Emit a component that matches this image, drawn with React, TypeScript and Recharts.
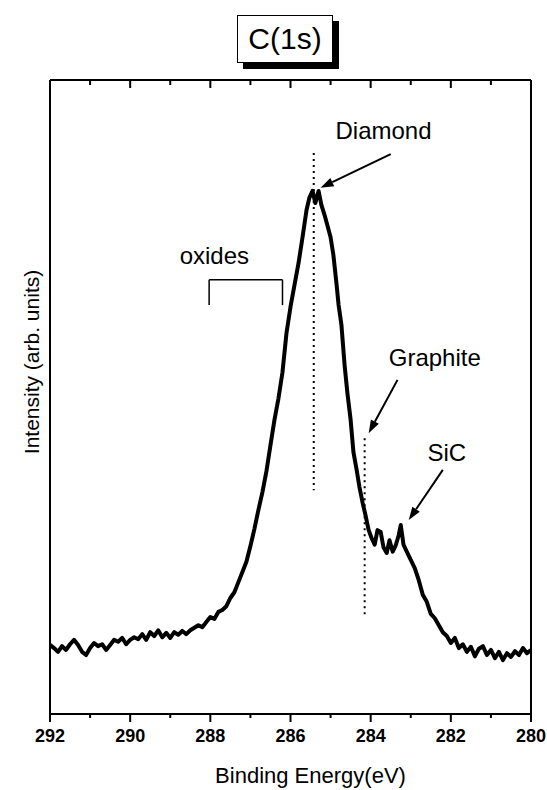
import React from 'react';
import {
  LineChart,
  Line,
  XAxis,
  YAxis,
  ReferenceLine,
  ReferenceDot,
} from 'recharts';

// C(1s) XPS spectrum
const bindingEnergy = [
  292.0, 291.9, 291.8, 291.7, 291.6, 291.5, 291.4, 291.3, 291.2, 291.1,
  291.0, 290.9, 290.8, 290.7, 290.6, 290.5, 290.4, 290.3, 290.2, 290.1,
  290.0, 289.9, 289.8, 289.7, 289.6, 289.5, 289.4, 289.3, 289.2, 289.1,
  289.0, 288.9, 288.8, 288.7, 288.6, 288.5, 288.4, 288.3, 288.2, 288.1,
  288.0, 287.9, 287.8, 287.7, 287.6, 287.5, 287.4, 287.3, 287.2, 287.1,
  287.0, 286.9, 286.8, 286.7, 286.6, 286.5, 286.4, 286.3, 286.2, 286.1,
  286.0, 285.9, 285.8, 285.7, 285.6, 285.53, 285.45, 285.38, 285.3, 285.23,
  285.15, 285.08, 285.0, 284.93, 284.85, 284.8, 284.73, 284.65, 284.58, 284.5,
  284.43, 284.35, 284.28, 284.2, 284.13, 284.05, 283.98, 283.9, 283.83, 283.75,
  283.68, 283.6, 283.53, 283.45, 283.38, 283.3, 283.25, 283.18, 283.1, 283.0,
  282.9, 282.8, 282.7, 282.6, 282.5, 282.4, 282.3, 282.2, 282.1, 282.0,
  281.9, 281.8, 281.7, 281.6, 281.5, 281.4, 281.3, 281.2, 281.1, 281.0,
  280.9, 280.8, 280.7, 280.6, 280.5, 280.4, 280.3, 280.2, 280.1, 280.0,
];

const intensity = [
  10.9, 10.4, 9.8, 10.7, 10.1, 11.0, 11.7, 10.9, 9.8, 9.3,
  10.4, 11.2, 10.7, 11.0, 10.1, 10.9, 11.7, 11.4, 12.0, 11.0,
  11.7, 12.1, 11.8, 12.6, 11.7, 12.9, 12.3, 13.2, 12.1, 12.8,
  12.0, 12.9, 12.5, 13.1, 12.6, 13.2, 13.6, 14.0, 13.7, 14.5,
  15.3, 15.0, 16.1, 16.4, 17.0, 18.3, 19.2, 20.8, 22.4, 24.0,
  26.5, 29.2, 32.2, 35.0, 38.3, 42.4, 46.4, 49.8, 53.9, 60.1,
  64.2, 67.7, 71.1, 75.2, 79.5, 81.4, 82.5, 80.6, 82.5, 80.3,
  78.7, 77.1, 75.2, 72.4, 67.7, 64.5, 61.4, 55.0, 50.6, 46.4,
  41.3, 38.5, 35.8, 33.3, 31.4, 29.0, 27.8, 26.7, 29.0, 28.7,
  26.3, 25.4, 27.4, 25.6, 26.5, 28.2, 29.8, 26.7, 25.6, 24.3,
  23.0, 21.1, 18.8, 17.7, 15.8, 15.1, 14.0, 12.9, 12.3, 11.2,
  12.0, 10.4, 11.0, 9.8, 10.6, 9.1, 10.3, 10.7, 9.3, 10.1,
  8.8, 9.8, 8.5, 9.6, 9.0, 9.9, 9.3, 10.4, 9.6, 10.1,
];

const energyTicks = [292, 291, 290, 289, 288, 287, 286, 285, 284, 283, 282, 281, 280];

// peak markers (dotted lines): [energy, from, to]
const peakMarkers: [number, number, number][] = [
  [285.42, 88.5, 35.3],
  [284.15, 43.5, 15.3],
];

// labels: [text, energy, intensity]
const peakLabels: [string, number, number][] = [
  ['Diamond', 283.68, 92.0],
  ['oxides', 287.9, 72.4],
  ['Graphite', 282.4, 56.2],
  ['SiC', 282.1, 41.3],
];

// arrows: [fromE, fromI, toE, toI]
const arrows: [number, number, number, number][] = [
  [283.5, 88.3, 285.25, 83.0],
  [283.33, 52.7, 284.05, 44.3],
  [282.2, 38.5, 283.05, 30.6],
];

// oxides bracket: [left E, right E, top, bottom]
const oxidesBracket = [288.03, 286.2, 68.5, 64.5];

const data = bindingEnergy.map((e, i) => ({ e, v: intensity[i] }));

const FONT = "'Liberation Sans', Arial, sans-serif";

function BottomTick(props: any) {
  const { x, y, payload } = props;
  const major = payload.value % 2 === 0;
  return (
    <g>
      <line x1={x} x2={x} y1={y} y2={y + (major ? 8 : 4)} stroke="#000" strokeWidth={2} />
      {major && (
        <text x={x} y={y + 28} textAnchor="middle" fontFamily={FONT} fontSize={18} fontWeight={700} fill="#000">
          {payload.value}
        </text>
      )}
    </g>
  );
}

function TopTick(props: any) {
  const { x, y, payload } = props;
  const major = payload.value % 2 === 0;
  return <line x1={x} x2={x} y1={y} y2={y + (major ? 8 : 5)} stroke="#000" strokeWidth={2} />;
}

function Arrow(props: any) {
  const { x1, y1, x2, y2 } = props;
  const a = Math.atan2(y2 - y1, x2 - x1);
  const len = 13;
  const w = 4.5;
  const bx = x2 - len * Math.cos(a);
  const by = y2 - len * Math.sin(a);
  const px = -Math.sin(a) * w;
  const py = Math.cos(a) * w;
  return (
    <g>
      <line x1={x1} y1={y1} x2={bx} y2={by} stroke="#000" strokeWidth={2} />
      <polygon points={`${x2},${y2} ${bx + px},${by + py} ${bx - px},${by - py}`} fill="#000" />
    </g>
  );
}

function YLabel(props: any) {
  const { viewBox } = props;
  const x = viewBox.x - 18;
  const y = 362;
  return (
    <text x={x} y={y} transform={`rotate(-90 ${x} ${y})`} textAnchor="middle" dominantBaseline="central"
      fontFamily="'Liberation Sans Narrow', 'Liberation Sans', Arial, sans-serif" fontSize={21} fill="#000">
      Intensity (arb. units)
    </text>
  );
}

function XLabel(props: any) {
  const { viewBox } = props;
  return (
    <text x={viewBox.x + viewBox.width / 2 + 20} y={783} textAnchor="middle" fontFamily={FONT} fontSize={22} fill="#000">
      Binding Energy(eV)
    </text>
  );
}

export default function App() {
  const [bl, br, bt, bb] = oxidesBracket;
  return (
    <div style={{ position: 'absolute', left: 0, top: 0, width: 547, height: 790, background: '#fff' }}>
      <div
        style={{
          position: 'absolute',
          left: 237,
          top: 15,
          width: 96,
          height: 48,
          boxSizing: 'border-box',
          border: '1.5px solid #000',
          boxShadow: '6px 6px 0 #000',
          background: '#fff',
          fontFamily: FONT,
          fontSize: 30,
          lineHeight: '45px',
          textAlign: 'center',
          zIndex: 2,
        }}
      >
        C(1s)
      </div>
      <LineChart width={547} height={790} data={data} margin={{ top: 79, right: 15, bottom: 0, left: 49 }}>
        <XAxis
          dataKey="e"
          type="number"
          domain={[280, 292]}
          reversed
          ticks={energyTicks}
          interval={0}
          height={76}
          tickSize={0}
          tickMargin={0}
          tick={<BottomTick />}
          axisLine={{ stroke: '#000', strokeWidth: 2 }}
          tickLine={false}
          label={<XLabel />}
        />
        <XAxis
          xAxisId="top"
          orientation="top"
          dataKey="e"
          type="number"
          domain={[280, 292]}
          reversed
          ticks={energyTicks}
          interval={0}
          height={1}
          tickSize={0}
          tickMargin={0}
          tick={<TopTick />}
          axisLine={{ stroke: '#000', strokeWidth: 2 }}
          tickLine={false}
        />
        <YAxis
          type="number"
          domain={[0, 100]}
          width={1}
          tick={false}
          tickLine={false}
          axisLine={{ stroke: '#000', strokeWidth: 2 }}
          label={<YLabel />}
        />
        <YAxis
          yAxisId="r"
          orientation="right"
          type="number"
          domain={[0, 100]}
          width={1}
          tick={false}
          tickLine={false}
          axisLine={{ stroke: '#000', strokeWidth: 2 }}
        />
        {peakMarkers.map(([e, a, b]) => (
          <ReferenceLine
            key={`m-${e}`}
            segment={[{ x: e, y: a }, { x: e, y: b }]}
            stroke="#000"
            strokeWidth={2}
            strokeDasharray="2 4"
          />
        ))}
        <ReferenceLine segment={[{ x: bl, y: bb }, { x: bl, y: bt }]} stroke="#000" strokeWidth={1.5} />
        <ReferenceLine segment={[{ x: bl, y: bt }, { x: br, y: bt }]} stroke="#000" strokeWidth={1.5} />
        <ReferenceLine segment={[{ x: br, y: bt }, { x: br, y: bb }]} stroke="#000" strokeWidth={1.5} />
        {arrows.map(([e1, i1, e2, i2]) => (
          <ReferenceLine
            key={`a-${e1}`}
            segment={[{ x: e1, y: i1 }, { x: e2, y: i2 }]}
            shape={(p: any) => <Arrow {...p} />}
          />
        ))}
        {peakLabels.map(([text, e, v]) => (
          <ReferenceDot
            key={text}
            x={e}
            y={v}
            r={0}
            fill="none"
            stroke="none"
            label={{ value: text, position: 'center', fontFamily: FONT, fontSize: 24, fill: '#000' }}
          />
        ))}
        <Line
          dataKey="v"
          type="linear"
          stroke="#000"
          strokeWidth={4}
          strokeLinejoin="round"
          dot={false}
          isAnimationActive={false}
        />
      </LineChart>
    </div>
  );
}
